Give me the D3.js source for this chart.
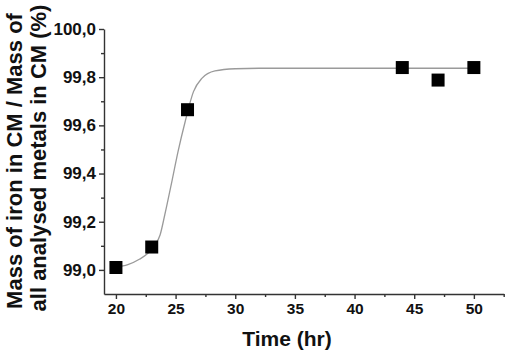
<!DOCTYPE html>
<html>
<head>
<meta charset="utf-8">
<script src="https://cdn.jsdelivr.net/npm/d3@7"></script>
<style>
  body { margin: 0; background: #fff; }
  text { font-family: "Liberation Sans", Arial, sans-serif; font-weight: bold; }
</style>
</head>
<body>
<div id="chart"></div>
<script>
// measured points (hr, %)
const timeHr = [20, 23, 26, 44, 47, 50];
const ironPct = [99.01, 99.095, 99.665, 99.84, 99.788, 99.84];

// fitted curve
const fitX = [20, 21, 22, 22.7, 23.2, 23.7, 24.1, 24.7, 25.2, 25.8, 26.5, 27.2, 28.3, 30, 32, 50];
const fitY = [99.012, 99.022, 99.045, 99.07, 99.1, 99.145, 99.23, 99.37, 99.49, 99.615, 99.74, 99.795, 99.826, 99.835, 99.837, 99.837];

const xTicks = [20, 25, 30, 35, 40, 45, 50];
const xMinor = [22.5, 27.5, 32.5, 37.5, 42.5, 47.5, 52.5];
const yTicks = [99.0, 99.2, 99.4, 99.6, 99.8, 100.0];
const yMinor = [99.1, 99.3, 99.5, 99.7, 99.9];

const W = 510, H = 354;
const plotLeft = 104, plotRight = 503.7, plotTop = 29, plotBottom = 294;

const svg = d3.select("#chart").append("svg")
  .attr("width", W)
  .attr("height", H);

const x = d3.scaleLinear().domain([19, 52.5]).range([plotLeft, plotRight]);
const y = d3.scaleLinear().domain([98.9, 100.0]).range([plotBottom, plotTop]);

const fmt = d => d3.format(".1f")(d).replace(".", ",");

// minor ticks first
svg.append("g")
  .attr("transform", `translate(0,${plotBottom})`)
  .call(d3.axisBottom(x).tickValues(xMinor).tickSize(3).tickFormat(""))
  .call(g => g.select(".domain").remove());
svg.append("g")
  .attr("transform", `translate(${plotLeft},0)`)
  .call(d3.axisLeft(y).tickValues(yMinor).tickSize(3).tickFormat(""))
  .call(g => g.select(".domain").remove());

// X axis
const xAxis = svg.append("g")
  .attr("transform", `translate(0,${plotBottom})`)
  .call(d3.axisBottom(x).tickValues(xTicks).tickSize(5).tickSizeOuter(0).tickPadding(4));
xAxis.selectAll("text").style("font-size", "15.5px").attr("fill", "#111");

// Y axis
const yAxis = svg.append("g")
  .attr("transform", `translate(${plotLeft},0)`)
  .call(d3.axisLeft(y).tickValues(yTicks).tickFormat(fmt).tickSize(5).tickSizeOuter(0).tickPadding(3));
yAxis.selectAll("text").style("font-size", "17px").attr("fill", "#111");

svg.selectAll(".domain, .tick line")
  .attr("stroke", "#333")
  .attr("stroke-width", 1.4);

// fitted line
const fit = fitX.map((v, i) => ({ t: v, p: fitY[i] }));
svg.append("path")
  .datum(fit)
  .attr("fill", "none")
  .attr("stroke", "#9a9a9a")
  .attr("stroke-width", 1.3)
  .attr("d", d3.line().x(d => x(d.t)).y(d => y(d.p)).curve(d3.curveMonotoneX));

// square markers
const sq = 13;
svg.selectAll(".pt")
  .data(timeHr.map((t, i) => ({ t, p: ironPct[i] })))
  .enter().append("rect")
  .attr("class", "pt")
  .attr("x", d => x(d.t) - sq / 2)
  .attr("y", d => y(d.p) - sq / 2)
  .attr("width", sq)
  .attr("height", sq)
  .attr("fill", "#000");

// axis titles
svg.append("text")
  .attr("x", 287)
  .attr("y", 346)
  .attr("text-anchor", "middle")
  .style("font-size", "21px")
  .attr("fill", "#111")
  .text("Time (hr)");

svg.append("text")
  .attr("transform", "translate(22,161) rotate(-90)")
  .attr("text-anchor", "middle")
  .style("font-size", "22px")
  .attr("fill", "#111")
  .text("Mass of iron in CM / Mass of");

svg.append("text")
  .attr("transform", "translate(46,158) rotate(-90)")
  .attr("text-anchor", "middle")
  .style("font-size", "22px")
  .attr("fill", "#111")
  .text("all analysed metals in CM (%)");
</script>
</body>
</html>
